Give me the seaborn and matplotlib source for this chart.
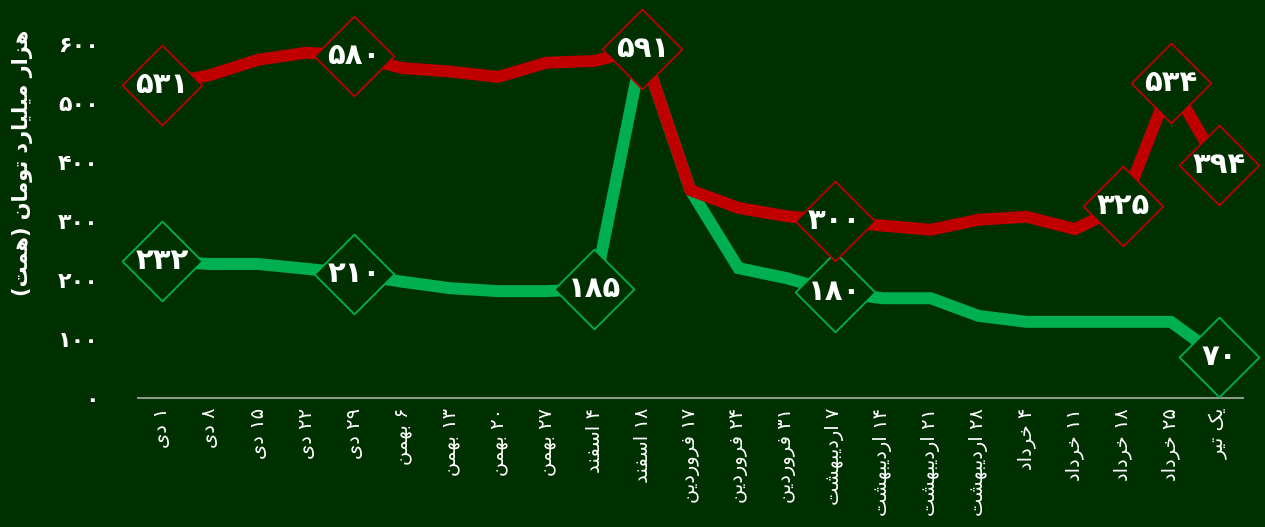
import matplotlib
matplotlib.use("Agg")
import matplotlib.pyplot as plt
import seaborn as sns
import numpy as np
import pandas as pd

# dates (logical persian text)
dates = ['۱ دی', '۸ دی', '۱۵ دی', '۲۲ دی', '۲۹ دی', '۶ بهمن', '۱۳ بهمن', '۲۰ بهمن',
         '۲۷ بهمن', '۴ اسفند', '۱۸ اسفند', '۱۷ فروردین', '۲۴ فروردین', '۳۱ فروردین',
         '۷ اردیبهشت', '۱۴ اردیبهشت', '۲۱ اردیبهشت', '۲۸ اردیبهشت', '۴ خرداد',
         '۱۱ خرداد', '۱۸ خرداد', '۲۵ خرداد', 'یک تیر']
red_vals = [531, 547, 573, 585, 580, 559, 553, 544, 568, 571, 591, 352, 322, 308,
            300, 292, 285, 302, 307, 286, 325, 534, 394]
green_vals = [232, 227, 227, 219, 210, 197, 186, 181, 181, 185, 591, 352, 220, 203,
              180, 169, 169, 139, 129, 129, 129, 129, 70]
red_labeled = [0, 4, 10, 14, 20, 21, 22]
green_labeled = [0, 4, 9, 14, 22]
y_ticks = [0, 100, 200, 300, 400, 500, 600]
y_title = 'هزار میلیارد تومان (همت)'

BG = '#003000'
RED = '#C00000'
GREEN = '#00B050'

# --- minimal persian shaping (matplotlib has no text shaping) ---
DUAL = {
    'ب': 'ﺏﺐﺑﺒ', 'ت': 'ﺕﺖﺗﺘ', 'خ': 'ﺥﺦﺧﺨ', 'س': 'ﺱﺲﺳﺴ', 'ش': 'ﺵﺶﺷﺸ',
    'ف': 'ﻑﻒﻓﻔ', 'ک': 'ﮎﮏﮐﮑ', 'ل': 'ﻝﻞﻟﻠ', 'م': 'ﻡﻢﻣﻤ', 'ن': 'ﻥﻦﻧﻨ',
    'ه': 'ﻩﻪﻫﻬ', 'ی': 'ﯼﯽﯾﯿ',
}
RIGHT = {'ا': 'ﺍﺎ', 'د': 'ﺩﺪ', 'ر': 'ﺭﺮ', 'ز': 'ﺯﺰ', 'و': 'ﻭﻮ'}
DIGITS = '۰۱۲۳۴۵۶۷۸۹'


def fa_num(n):
    return str(n).translate(str.maketrans('0123456789', DIGITS))


def shape(text):
    out = []
    for i, ch in enumerate(text):
        prev = text[i - 1] if i > 0 else ''
        nxt = text[i + 1] if i + 1 < len(text) else ''
        cp = prev in DUAL
        cn = nxt in DUAL or nxt in RIGHT
        if ch in DUAL:
            f = DUAL[ch]
            if cp and cn:
                out.append(f[3])
            elif cp:
                out.append(f[1])
            elif cn:
                out.append(f[2])
            else:
                out.append(f[0])
        elif ch in RIGHT:
            out.append(RIGHT[ch][1] if cp else RIGHT[ch][0])
        else:
            out.append(ch)
    vis = ''.join(out)[::-1]
    # keep digit runs left-to-right, mirror brackets
    res, run = [], ''
    for ch in vis:
        if ch in DIGITS:
            run += ch
        else:
            res.append(run[::-1])
            run = ''
            res.append({'(': ')', ')': '('}.get(ch, ch))
    res.append(run[::-1])
    return ''.join(res)


sns.set_style("white")
plt.rcParams['font.family'] = ['DejaVu Sans']

fig = plt.figure(figsize=(12.65, 5.27), dpi=100, facecolor=BG)
ax = fig.add_axes([0.109, 0.2448, 0.8736, 0.728])
ax.set_facecolor(BG)

x = np.arange(len(dates))
df = pd.DataFrame({'x': np.concatenate([x, x]),
                   'v': green_vals + red_vals,
                   's': ['g'] * len(x) + ['r'] * len(x)})

sns.lineplot(data=df[df.s == 'g'], x='x', y='v', color=GREEN, lw=8.6, ax=ax,
             solid_joinstyle='miter', zorder=2)
sns.lineplot(data=df[df.s == 'r'], x='x', y='v', color=RED, lw=8.6, ax=ax,
             solid_joinstyle='miter', zorder=3)

gl = pd.DataFrame({'x': x[green_labeled], 'v': np.array(green_vals)[green_labeled]})
rl = pd.DataFrame({'x': x[red_labeled], 'v': np.array(red_vals)[red_labeled]})
sns.scatterplot(data=gl, x='x', y='v', marker='D', s=1650, color=BG,
                edgecolor=GREEN, linewidth=1.3, ax=ax, zorder=4, clip_on=False)
sns.scatterplot(data=rl, x='x', y='v', marker='D', s=1650, color=BG,
                edgecolor=RED, linewidth=1.3, ax=ax, zorder=5, clip_on=False)

for d, z in ((gl, 6), (rl, 7)):
    for xi, vi in zip(d.x, d.v):
        ax.text(xi, vi, fa_num(vi), color='white', fontsize=21, fontweight='bold',
                ha='center', va='center', zorder=z)

ax.set_xlim(-0.5, len(dates) - 0.5)
ax.set_ylim(0, 650)
ax.set_xticks(x)
ax.set_xticklabels([shape(d) for d in dates], rotation=90, color='white', fontsize=14)
ax.set_yticks(y_ticks)
ax.set_yticklabels([fa_num(t) for t in y_ticks], color='white', fontsize=16,
                   fontweight='bold')
ax.tick_params(length=0, pad=7)
ax.tick_params(axis='y', pad=28)
ax.set_xlabel('')
ax.set_ylabel(shape(y_title), color='white', fontsize=15, fontweight='bold')
ax.yaxis.set_label_coords(-0.095, 0.613)

for s in ['top', 'right', 'left']:
    ax.spines[s].set_visible(False)
ax.spines['bottom'].set_color('#8A9A8A')
ax.spines['bottom'].set_linewidth(1.5)

fig.savefig('out.png', dpi=100, facecolor=BG)
